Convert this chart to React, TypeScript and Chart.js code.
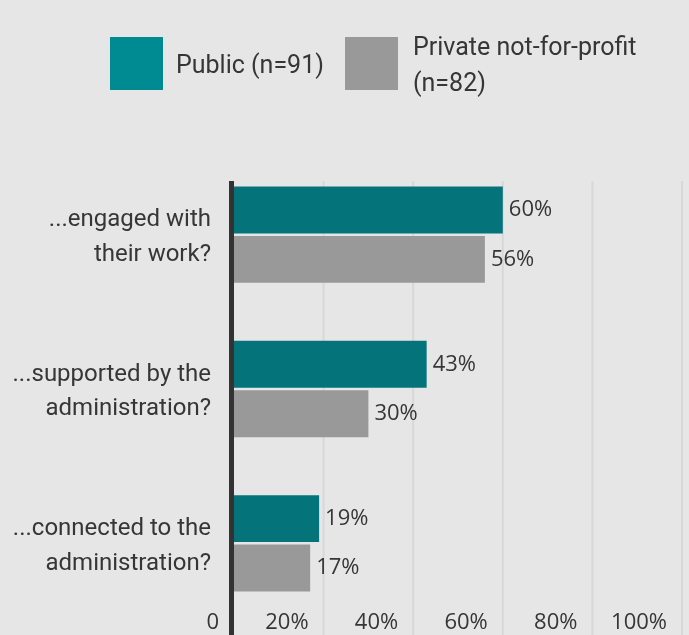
import React, { useEffect, useRef } from "react";
import { Chart, registerables } from "chart.js";

Chart.register(...registerables);

const categories: string[][] = [
  ["...engaged with", "their work?"],
  ["...supported by the", "administration?"],
  ["...connected to the", "administration?"],
];
const seriesNames = ["Public (n=91)", "Private not-for-profit (n=82)"];
const legendLines: string[][] = [["Public (n=91)"], ["Private not-for-profit", "(n=82)"]];
const publicValues = [60, 43, 19];
const privateValues = [56, 30, 17];
const tickValues = [0, 20, 40, 60, 80, 100];
const tickLabels = ["0", "20%", "40%", "60%", "80%", "100%"];

const BG = "#e6e6e6";
const TEXT = "#363636";
const TEAL_BAR = "#04747a";
const TEAL_LEGEND = "#008a91";
const GRAY = "#999999";

const customPlugin = {
  id: "custom",
  beforeDraw(chart: any) {
    const ctx = chart.ctx;
    ctx.save();
    ctx.fillStyle = BG;
    ctx.fillRect(0, 0, chart.width, chart.height);
    // legend
    const legendColors = [TEAL_LEGEND, GRAY];
    const boxX = [110, 345];
    const textX = [176, 413];
    ctx.font = "25px Roboto";
    ctx.fillStyle = TEXT;
    ctx.textBaseline = "middle";
    ctx.textAlign = "left";
    legendLines.forEach((lines, i) => {
      ctx.fillStyle = legendColors[i];
      ctx.fillRect(boxX[i], 37, 53, 53);
      ctx.fillStyle = TEXT;
      const lh = 36;
      const startY = 67 - ((lines.length - 1) * lh) / 2;
      lines.forEach((ln, j) => ctx.fillText(ln, textX[i], startY + j * lh));
    });
    ctx.restore();
  },
  beforeDatasetsDraw(chart: any) {
    const ctx = chart.ctx;
    const xs = chart.scales.x;
    ctx.save();
    ctx.strokeStyle = "#d8d8d8";
    ctx.lineWidth = 2;
    tickValues.forEach((v) => {
      if (v === 0) return;
      const x = xs.getPixelForValue(v);
      ctx.beginPath();
      ctx.moveTo(x, 181);
      ctx.lineTo(x, chart.height);
      ctx.stroke();
    });
    // tick labels
    ctx.font = "22px 'Open Sans'";
    ctx.fillStyle = TEXT;
    ctx.textAlign = "right";
    ctx.textBaseline = "middle";
    tickValues.forEach((v, i) => {
      const x = xs.getPixelForValue(v);
      ctx.fillText(tickLabels[i], x - 15, 623);
    });
    ctx.restore();
  },
  afterDatasetsDraw(chart: any) {
    const ctx = chart.ctx;
    const xs = chart.scales.x;
    ctx.save();
    // axis line
    const x0 = xs.getPixelForValue(0);
    ctx.fillStyle = "#333333";
    ctx.fillRect(x0 - 5, 181, 5, chart.height - 181);
    // data labels
    ctx.font = "22px 'Open Sans'";
    ctx.fillStyle = TEXT;
    ctx.textAlign = "left";
    ctx.textBaseline = "middle";
    chart.data.datasets.forEach((ds: any, di: number) => {
      const meta = chart.getDatasetMeta(di);
      meta.data.forEach((bar: any, i: number) => {
        ctx.fillText(ds.data[i] + "%", bar.x + 6, bar.y);
      });
    });
    ctx.restore();
  },
};

export default function App() {
  const ref = useRef<HTMLCanvasElement | null>(null);
  useEffect(() => {
    if (!ref.current) return;
    const chart = new Chart(ref.current, {
      type: "bar",
      data: {
        labels: categories as any,
        datasets: [
          { label: seriesNames[0], data: publicValues, backgroundColor: TEAL_BAR },
          { label: seriesNames[1], data: privateValues, backgroundColor: GRAY },
        ],
      },
      options: {
        indexAxis: "y",
        responsive: false,
        animation: false,
        events: [],
        layout: { padding: { top: 157.5, bottom: 14.5, right: 7, left: 0 } },
        datasets: { bar: { barPercentage: 0.95, categoryPercentage: 0.64 } },
        plugins: { legend: { display: false }, tooltip: { enabled: false } },
        scales: {
          x: {
            min: 0,
            max: 100,
            display: false,
            grid: { display: false },
          },
          y: {
            grid: { display: false, drawTicks: false },
            border: { display: false },
            afterFit: (scale: any) => {
              scale.width = 234;
              scale.paddingTop = 0;
              scale.paddingBottom = 0;
            },
            ticks: {
              padding: 23,
              labelOffset: 3,
              color: TEXT,
              font: { family: "Roboto", size: 24, lineHeight: 1.44 },
            },
          },
        },
      },
      plugins: [customPlugin],
    });
    return () => chart.destroy();
  }, []);
  return (
    <div style={{ position: "fixed", left: 0, top: 0, width: 689, height: 635, background: BG }}>
      <canvas ref={ref} width={689} height={635} style={{ display: "block", width: 689, height: 635 }} />
    </div>
  );
}
